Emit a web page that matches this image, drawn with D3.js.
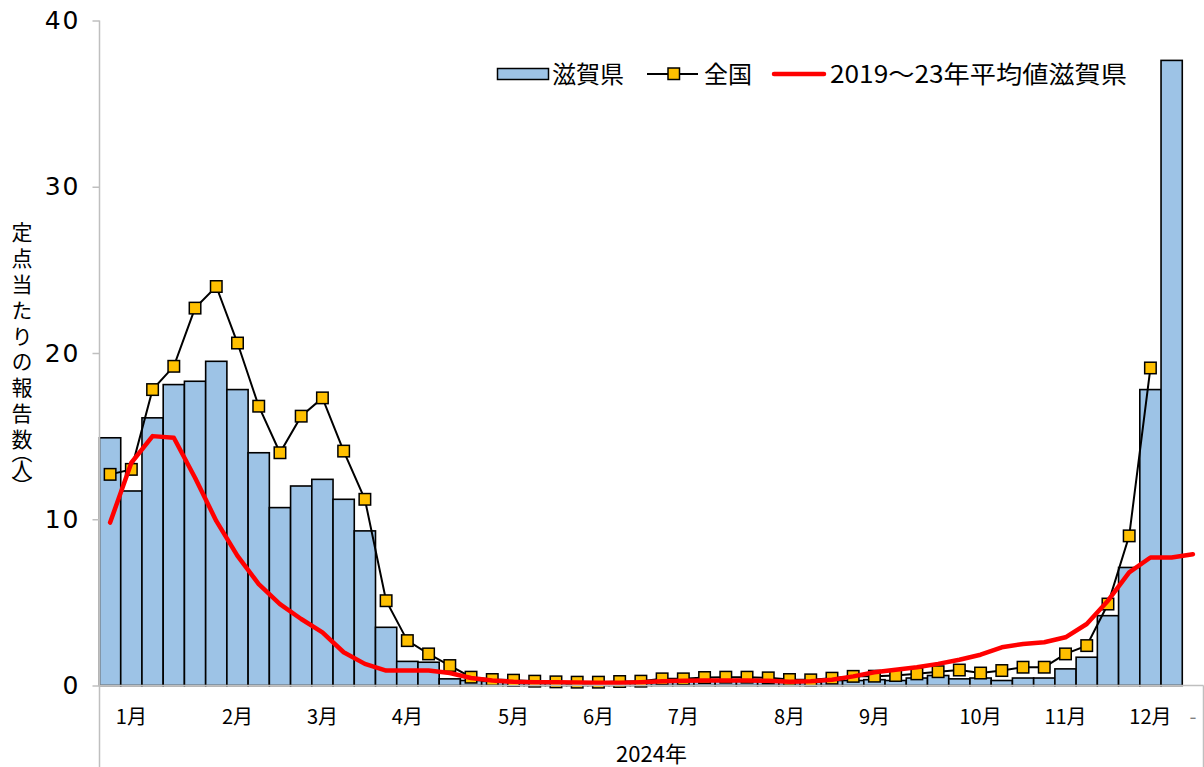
<!DOCTYPE html>
<html>
<head>
<meta charset="utf-8">
<script src="https://cdn.jsdelivr.net/npm/d3@7"></script>
<style>
  body { margin: 0; background: #fff; }
  svg { display: block; }
</style>
</head>
<body>
<svg id="chart" width="1204" height="767"></svg>
<script>
// Weekly reports per sentinel site, 2024 (weeks 1-52)
const weekIndex = d3.range(52);

// Category labels under the axis (one per week, most blank)
const weekLabels = ["", "1月", "", "", "", "", "2月", "", "", "", "3月", "", "", "", "4月", "", "", "", "",
  "5月", "", "", "", "6月", "", "", "", "7月", "", "", "", "", "8月", "", "", "", "9月", "", "", "", "",
  "10月", "", "", "", "11月", "", "", "", "12月", "", "-"];

// 滋賀県 (weeks 1-51)
const shiga = [14.9, 11.7, 16.1, 18.1, 18.3, 19.5, 17.8, 14.0, 10.7, 12.0, 12.4, 11.2, 9.3, 3.5, 1.45, 1.4,
  0.4, 0.3, 0.25, 0.2, 0.15, 0.15, 0.1, 0.1, 0.15, 0.2, 0.25, 0.3, 0.3, 0.3, 0.35, 0.3, 0.25, 0.2, 0.3, 0.3,
  0.35, 0.3, 0.45, 0.6, 0.4, 0.45, 0.3, 0.45, 0.45, 1.0, 1.7, 4.2, 7.1, 17.8, 37.6];

// 全国 (weeks 1-50)
const national = [12.7, 13.0, 17.8, 19.2, 22.7, 24.0, 20.6, 16.8, 14.0, 16.2, 17.3, 14.1, 11.2, 5.1, 2.7, 1.9,
  1.2, 0.5, 0.36, 0.32, 0.26, 0.22, 0.2, 0.2, 0.24, 0.26, 0.4, 0.4, 0.48, 0.5, 0.5, 0.46, 0.36, 0.34, 0.44,
  0.55, 0.56, 0.6, 0.7, 0.83, 0.93, 0.75, 0.9, 1.1, 1.1, 1.9, 2.4, 4.9, 9.0, 19.1];

// 2019～23年平均値 滋賀県 (weeks 1-52)
const average = [9.8, 13.4, 15.0, 14.9, 12.5, 9.9, 7.8, 6.1, 4.9, 4.0, 3.2, 2.0, 1.3, 0.9, 0.9, 0.9, 0.75,
  0.45, 0.3, 0.22, 0.2, 0.2, 0.18, 0.16, 0.16, 0.2, 0.25, 0.28, 0.3, 0.3, 0.3, 0.28, 0.22, 0.25, 0.35, 0.55,
  0.8, 0.95, 1.1, 1.3, 1.55, 1.85, 2.3, 2.5, 2.6, 2.9, 3.7, 5.1, 6.8, 7.7, 7.7, 7.9];

const yTicks = [0, 10, 20, 30, 40];
const seriesNames = ["滋賀県", "全国", "2019～23年平均値滋賀県"];
const yTitleMain = "定点当たりの報告数";
const yTitleUnit = "（人）";
const xTitle = "2024年";

const BLUE = "#9DC3E6", GOLD = "#FFC000", RED = "#FF0000", AXIS = "#BFBFBF";
const JP = "'Noto Sans CJK JP', 'Noto Sans', sans-serif";

const svg = d3.select("#chart");
const plotLeft = 99.5, plotRight = 1203.5, plotTop = 20.5, plotBottom = 685.5;

const x = d3.scaleBand().domain(weekIndex).range([plotLeft, plotRight]).padding(0);
const y = d3.scaleLinear().domain([0, 40]).range([plotBottom, plotTop]);
const cx = i => x(i) + x.bandwidth() / 2;

// bars
svg.append("g")
  .selectAll("rect")
  .data(shiga)
  .join("rect")
  .attr("x", (d, i) => x(i))
  .attr("width", x.bandwidth())
  .attr("y", d => y(d))
  .attr("height", d => y(0) - y(d))
  .attr("fill", BLUE)
  .attr("stroke", "#000")
  .attr("stroke-width", 1.6);

// national line with square markers
const line = d3.line().x((d, i) => cx(i)).y(d => y(d));
svg.append("path")
  .attr("d", line(national))
  .attr("fill", "none")
  .attr("stroke", "#000")
  .attr("stroke-width", 2);

const ms = 11.5;
svg.append("g")
  .selectAll("rect")
  .data(national)
  .join("rect")
  .attr("x", (d, i) => cx(i) - ms / 2)
  .attr("y", d => y(d) - ms / 2)
  .attr("width", ms)
  .attr("height", ms)
  .attr("fill", GOLD)
  .attr("stroke", "#000")
  .attr("stroke-width", 1.5);

// five-year average
svg.append("path")
  .attr("d", line(average))
  .attr("fill", "none")
  .attr("stroke", RED)
  .attr("stroke-width", 4.5)
  .attr("stroke-linejoin", "round")
  .attr("stroke-linecap", "round");

// y axis
const yAxis = svg.append("g")
  .attr("transform", `translate(${plotLeft},0)`)
  .call(d3.axisLeft(y).tickValues(yTicks).tickSize(7).tickSizeOuter(0).tickPadding(12));
yAxis.select(".domain").remove();
yAxis.selectAll(".tick line").attr("stroke", AXIS).attr("stroke-width", 1.5);
yAxis.selectAll(".tick text")
  .attr("font-family", "'DejaVu Sans', sans-serif")
  .attr("font-size", 25)
  .attr("letter-spacing", 2)
  .attr("fill", "#000");

// x axis (week categories)
const xAxis = svg.append("g")
  .attr("transform", `translate(0,${plotBottom})`)
  .call(d3.axisBottom(x).tickFormat(i => weekLabels[i]).tickSize(0).tickPadding(24));
xAxis.select(".domain").remove();
xAxis.selectAll(".tick text")
  .attr("font-family", JP)
  .attr("font-size", 20)
  .attr("fill", d => weekLabels[d] === "-" ? "#808080" : "#000");

// axis lines, including the group dividers below the categories
svg.append("line").attr("x1", plotLeft).attr("x2", plotLeft).attr("y1", plotTop).attr("y2", 767)
  .attr("stroke", AXIS).attr("stroke-width", 1.5);
svg.append("line").attr("x1", plotLeft).attr("x2", plotRight).attr("y1", plotBottom).attr("y2", plotBottom)
  .attr("stroke", AXIS).attr("stroke-width", 1.5);
svg.append("line").attr("x1", plotRight).attr("x2", plotRight).attr("y1", plotBottom).attr("y2", 767)
  .attr("stroke", AXIS).attr("stroke-width", 1.5);

// group label
svg.append("text")
  .attr("x", (plotLeft + plotRight) / 2)
  .attr("y", 762)
  .attr("text-anchor", "middle")
  .attr("font-family", JP)
  .attr("font-size", 22)
  .attr("fill", "#000")
  .text(xTitle);

// y axis title, vertical
const yTitle = svg.append("g")
  .attr("font-family", JP)
  .attr("font-size", 21)
  .attr("fill", "#000");
yTitle.append("text")
  .attr("x", 22)
  .attr("y", 222)
  .attr("writing-mode", "vertical-rl")
  .attr("letter-spacing", 4.8)
  .text(yTitleMain);
yTitle.append("text")
  .attr("x", 22)
  .attr("y", 451)
  .attr("writing-mode", "vertical-rl")
  .style("font-feature-settings", "'vpal'")
  .attr("letter-spacing", -3)
  .text(yTitleUnit);

// legend
const lg = svg.append("g").attr("font-family", JP).attr("font-size", 24).attr("fill", "#000");
lg.append("rect").attr("x", 497.5).attr("y", 68.5).attr("width", 51).attr("height", 11)
  .attr("fill", BLUE).attr("stroke", "#000").attr("stroke-width", 1.5);
lg.append("text").attr("x", 552).attr("y", 83).text(seriesNames[0]);

lg.append("line").attr("x1", 647).attr("x2", 698).attr("y1", 74).attr("y2", 74)
  .attr("stroke", "#000").attr("stroke-width", 2);
lg.append("rect").attr("x", 668).attr("y", 68).attr("width", ms).attr("height", ms)
  .attr("fill", GOLD).attr("stroke", "#000").attr("stroke-width", 1.5);
lg.append("text").attr("x", 704).attr("y", 83).text(seriesNames[1]);

lg.append("line").attr("x1", 774).attr("x2", 824).attr("y1", 74).attr("y2", 74)
  .attr("stroke", RED).attr("stroke-width", 4.5).attr("stroke-linecap", "round");
lg.append("text").attr("x", 830).attr("y", 83)
  .attr("textLength", 297).attr("lengthAdjust", "spacingAndGlyphs")
  .text(seriesNames[2]);
</script>
</body>
</html>
